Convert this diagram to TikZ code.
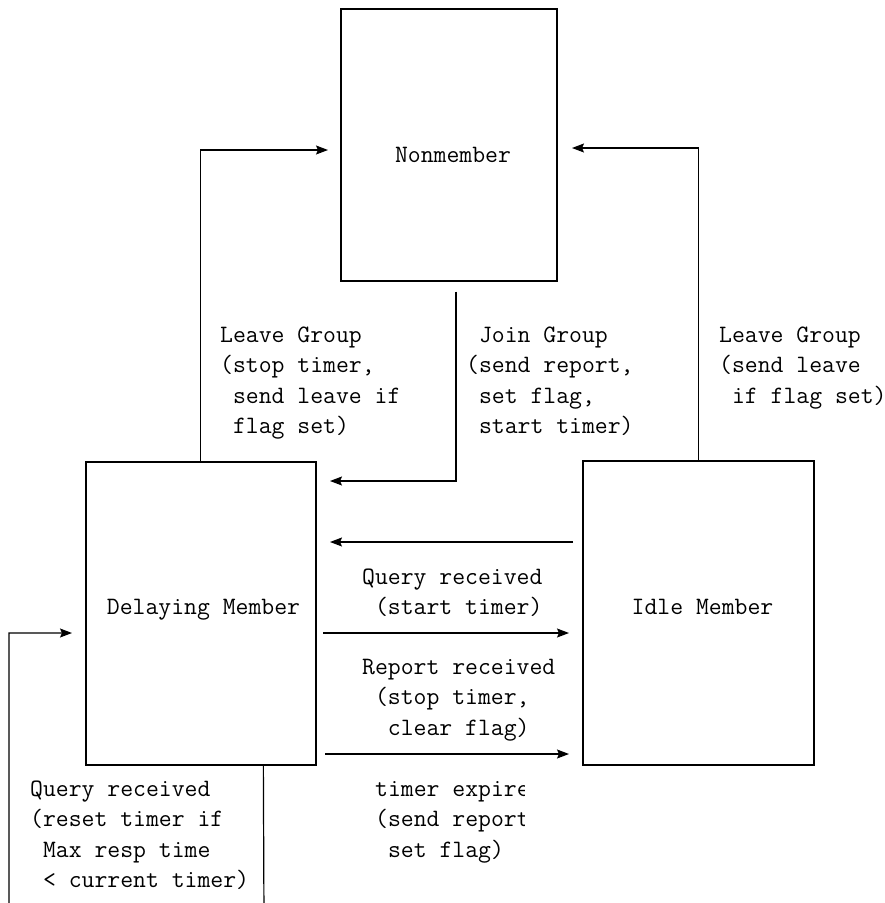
\documentclass[tikz,border=0pt]{standalone}
\usetikzlibrary{arrows.meta,calc}
\newcommand\lead{\hphantom{x}}
\tikzset{
  state/.style={draw, line width=1.3pt, rectangle, inner sep=0pt},
  txt/.style={inner sep=0pt, font=\ttfamily\fontsize{25pt}{30.5pt}\selectfont},
  % multi-line labels are placed by the baseline of their last line
  lbl/.style={txt, align=left, anchor=base west},
  arr/.style={line width=1.2pt, -{Stealth[length=12pt,width=9pt,inset=2pt]}},
}
\begin{document}
\begin{tikzpicture}[x=1pt,y=-1pt]
\useasboundingbox (0,0) rectangle (885,903);
\clip (0,0) rectangle (885,903);

% states
\node[state, minimum width=216pt, minimum height=272pt] (non) at (449,145) {};
\node[state, minimum width=230pt, minimum height=303pt] (dly) at (201,613.5) {};
\node[state, minimum width=231pt, minimum height=304pt] (idle) at (698.5,613) {};
\node[txt, anchor=base] (nonT) at (453,162) {Nonmember};
\node[txt, anchor=base] (dlyT) at (203.5,614) {Delaying Member};
\node[txt, anchor=base] (idleT) at (702.5,614) {Idle Member};

% free ends of the connectors
\coordinate (t1) at (328,150);
\coordinate (t2) at (330,481);
\coordinate (t3) at (572,148);
\coordinate (s4) at (573,542);
\coordinate (t4) at (330,542);
\coordinate (s5) at (323,633);
\coordinate (t5) at (569,633);
\coordinate (s6) at (325,754);
\coordinate (t6) at (569,754);
\coordinate (b7) at (264,920);
\coordinate (t7) at (72,633);

% transitions
\draw[arr] ($(dly.north west)+(115,0)$) |- (t1);
\draw[arr] ($(non.south)+(7,10)$) |- (t2);
\draw[arr] (idle.north) |- (t3);
\draw[arr] (s4) -- (t4);
\draw[arr] (s5) -- (t5);
\draw[arr] (s6) -- (t6);
\draw[arr] ($(dly.south west)+(178,0)$) -- (b7) -| (9,633) -- (t7);

% transition labels
\node[lbl] (l1) at (220,433.5) {Leave Group\\(stop timer,\\\lead send leave if\\\lead flag set)};
\node[lbl] (l2) at (466,433.5) {\lead Join Group\\(send report,\\\lead set flag,\\\lead start timer)};
\node[lbl] (l3) at (719,403) {Leave Group\\(send leave\\\lead if flag set)};
\node[lbl] (l5) at (362,614.5) {Query received\\\lead (start timer)};
\node[lbl] (l6) at (362,735) {Report received\\\lead (stop timer,\\\lead\lead clear flag)};
\node[lbl] (l7) at (30,887.5) {Query received\\(reset timer if\\\lead Max resp time\\\lead < current timer)};
\begin{scope}
  \clip (360,760) rectangle (524.5,875);
  \node[lbl] (l8) at (375,857) {timer expires\\(send report,\\\lead set flag)};
\end{scope}
\end{tikzpicture}
\end{document}
